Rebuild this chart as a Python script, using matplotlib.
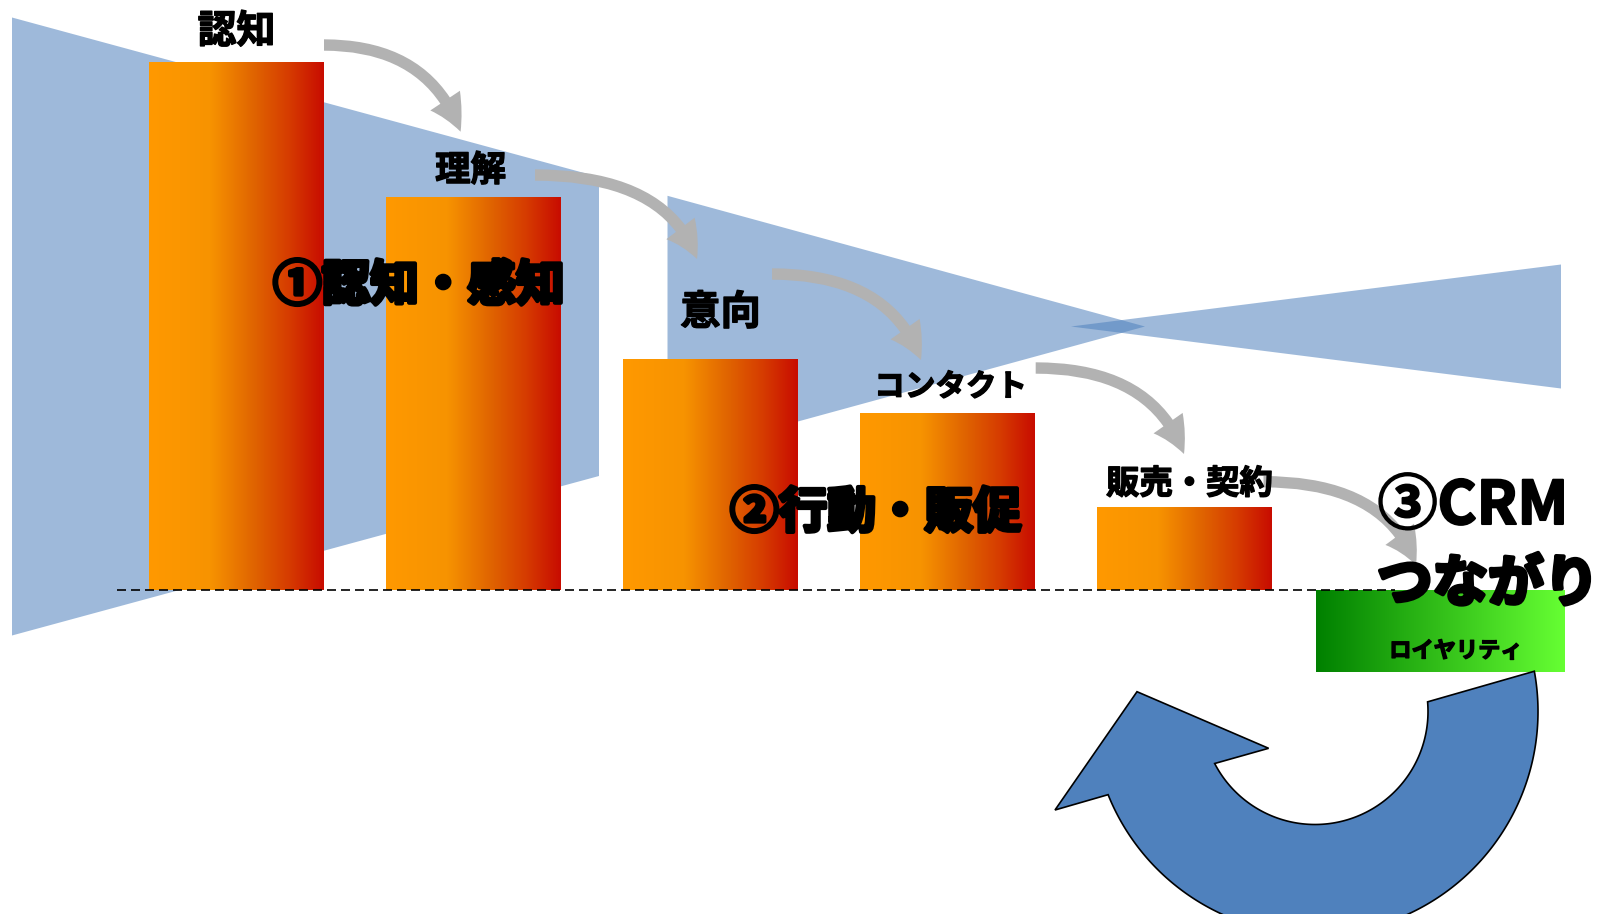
import numpy as np
import matplotlib
matplotlib.use("Agg")
import matplotlib.pyplot as plt
from matplotlib.patches import Polygon, FancyArrowPatch, ArrowStyle
from matplotlib.colors import LinearSegmentedColormap
import matplotlib.patheffects as pe

plt.rcParams['font.family'] = ['Noto Sans CJK JP', 'DejaVu Sans']

# ---------------- data ----------------
stages = ['認知', '理解', '意向', 'コンタクト', '販売・契約']
stage_values = [528, 393, 231, 177, 83]          # bar heights above the baseline
loyalty_label = 'ロイヤリティ'
loyalty_value = -82                              # bar below the baseline
phase1_label = '①認知・感知'
phase2_label = '②行動・販促'
phase3_title = '③CRM'
phase3_sub = 'つながり'

# ---------------- layout (pixel space, y measured downward) ----------------
W, H = 1608, 914
BASE = 590                      # baseline pixel row
def Y(py):                      # pixel row -> data y
    return BASE - py

X0, STEP, BAR_W = 236.5, 237, 175
GREEN_X, GREEN_W = 1441, 249

label_gap = [30.5, 26.5, 46, 26, 22.7]
label_dx = [0, -3, 10, 3, 5]
label_size = [28, 25.5, 29, 22, 24]

FUNNEL_C = 326.5
funnel_segments = [(12, 309, 599, 149.5), (667.5, 130.7, 1145, 0), (1071, 0, 1561, 62)]

arrow_layout = [((324, 45), (460.6, 131.7)),
                ((535, 175), (697, 259)),
                ((772, 274), (921, 360)),
                ((1035.7, 368), (1184, 454)),
                ((1263.5, 481.7), (1416, 565))]

fig = plt.figure(figsize=(W / 100, H / 100), dpi=100)
ax = fig.add_axes([0, 0, 1, 1])
ax.axis('off')

# funnel background
for x0, h0, x1, h1 in funnel_segments:
    verts = [(x0, Y(FUNNEL_C - h0)), (x1, Y(FUNNEL_C - h1)),
             (x1, Y(FUNNEL_C + h1)), (x0, Y(FUNNEL_C + h0))]
    ax.add_patch(Polygon(verts, closed=True, facecolor='#4F81BD', alpha=0.55,
                         edgecolor='none', zorder=1))

# gradient bars
fire = LinearSegmentedColormap.from_list(
    'fire', [(0, '#FF9900'), (0.35, '#F79300'), (0.6, '#E06400'),
             (0.8, '#D63C00'), (1, '#C80C00')])
greens = LinearSegmentedColormap.from_list('grn', [(0, '#008000'), (1, '#66FF33')])
grad = np.linspace(0, 1, 256).reshape(1, -1)

x_pos = X0 + STEP * np.arange(len(stages))
bars = ax.bar(x_pos, stage_values, width=BAR_W, bottom=0, color='none',
              linewidth=0, zorder=2)
gbar = ax.bar([GREEN_X], [loyalty_value], width=GREEN_W, bottom=0, color='none',
              linewidth=0, zorder=2)

def fill_gradient(bar, cmap):
    x, y = bar.get_x(), bar.get_y()
    w, h = bar.get_width(), bar.get_height()
    im = ax.imshow(grad, cmap=cmap, extent=(x, x + w, min(y, y + h), max(y, y + h)),
                   aspect='auto', interpolation='bilinear', zorder=2)
    im.set_clip_path(bar)

for b in bars:
    fill_gradient(b, fire)
fill_gradient(gbar[0], greens)

# dashed baseline
ax.plot([117, 1395], [0, 0], color='black', lw=1.2, dashes=(5.4, 3), zorder=3)

# gray curved arrows
astyle = ArrowStyle.Simple(head_length=25, head_width=25.6, tail_width=8.2)
for (tx, ty), (hx, hy) in arrow_layout:
    a = FancyArrowPatch((tx, Y(ty)), (hx, Y(hy)), arrowstyle=astyle,
                        connectionstyle='angle3,angleA=0,angleB=-70',
                        mutation_scale=1, facecolor='#B2B2B2', edgecolor='none',
                        lw=0, shrinkA=0, shrinkB=0, zorder=3)
    ax.add_patch(a)

# stage labels
thin = [pe.withStroke(linewidth=1.0, foreground='black')]
for i, (s, v) in enumerate(zip(stages, stage_values)):
    ax.text(x_pos[i] + label_dx[i], v + label_gap[i], s, ha='center', va='center',
            fontsize=label_size[i], fontweight='bold', color='black',
            path_effects=thin, zorder=4)

# circular arrow
CX, CY, R_OUT, R_IN = 1315, 711.5, 223, 113
to = np.radians(np.linspace(-10.4, 158.1, 240))
ti = np.radians(np.linspace(152.6, -4.9, 240))
verts = [(CX + R_OUT * np.cos(t), CY + R_OUT * np.sin(t)) for t in to]
verts += [(1055, 810), (1137, 691.7), (1268.6, 748.3)]
verts += [(CX + R_IN * np.cos(t), CY + R_IN * np.sin(t)) for t in ti]
verts = [(x, Y(y)) for x, y in verts]
ax.add_patch(Polygon(verts, closed=True, facecolor='#4F81BD', edgecolor='black',
                     lw=1.2, zorder=2))

# phase texts
heavy = [pe.withStroke(linewidth=3, foreground='black')]
mid = [pe.withStroke(linewidth=1.5, foreground='black')]
ax.text(419, Y(286), phase1_label, ha='center', va='center', fontsize=35,
        fontweight='bold', path_effects=heavy, zorder=5)
ax.text(876, Y(513), phase2_label, ha='center', va='center', fontsize=35,
        fontweight='bold', path_effects=heavy, zorder=5)
ax.text(1473, Y(507), phase3_title, ha='center', va='center', fontsize=43,
        fontweight='bold', path_effects=mid, zorder=5)
ax.text(1488, Y(585), phase3_sub, ha='center', va='center', fontsize=40,
        fontweight='bold', path_effects=heavy, zorder=5)
ax.text(GREEN_X + 15, loyalty_value / 2 - 20, loyalty_label, ha='center', va='center',
        fontsize=16, fontweight='bold', path_effects=thin, zorder=5)

ax.set_xlim(0, W)
ax.set_ylim(Y(H), Y(0))
fig.savefig('out.png', dpi=100)
